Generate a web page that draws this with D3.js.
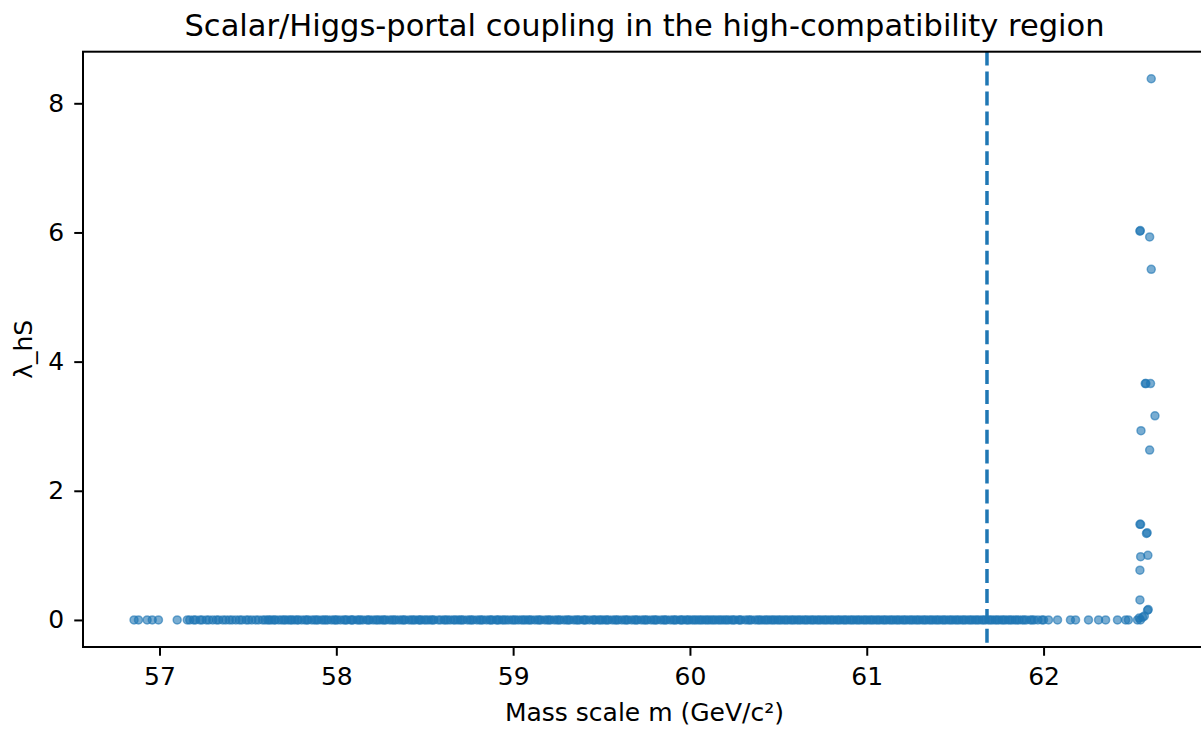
<!DOCTYPE html>
<html>
<head>
<meta charset="utf-8">
<script src="https://cdn.jsdelivr.net/npm/d3@7"></script>
<style>
  body { margin: 0; background: #fff; }
  text { font-family: "DejaVu Sans", sans-serif; fill: #000; }
</style>
</head>
<body>
<script>
// points sitting on the lambda ~ 0 floor (mass in GeV/c^2)
var bandMass = [
    56.856, 56.881, 56.930, 56.959, 56.994, 57.100,
    57.157, 57.171, 57.193, 57.204, 57.229, 57.241, 57.265, 57.279, 57.301, 57.322, 57.334, 57.358,
    57.375, 57.395, 57.411, 57.432, 57.452, 57.466, 57.490, 57.503, 57.522, 57.544, 57.560, 57.583,
    57.597, 57.621, 57.633, 57.655, 57.674, 57.690, 57.712, 57.728, 57.749, 57.764, 57.785, 57.804,
    57.822, 57.840, 57.861, 57.876, 57.897, 57.918, 57.930, 57.952, 57.972, 57.988,
    58.006, 58.024, 58.043, 58.060, 58.081, 58.095, 58.117, 58.136, 58.150, 58.172, 58.189, 58.208,
    58.224, 58.246, 58.262, 58.280, 58.301, 58.315, 58.336, 58.355, 58.371, 58.389, 58.411, 58.425,
    58.446, 58.465, 58.480, 58.497, 58.521, 58.536, 58.553, 58.577, 58.590, 58.609, 58.630, 58.645,
    58.663, 58.687, 58.700, 58.719, 58.741, 58.755, 58.774, 58.795, 58.810, 58.829, 58.849, 58.866,
    58.883, 58.904, 58.920, 58.938, 58.960, 58.975, 58.993,
    59.014, 59.030, 59.047, 59.069, 59.084, 59.103, 59.123, 59.139, 59.157, 59.179, 59.193, 59.212,
    59.233, 59.248, 59.267, 59.288, 59.303, 59.321, 59.343, 59.357, 59.376, 59.397, 59.412, 59.431,
    59.451, 59.467, 59.485, 59.506, 59.522, 59.540, 59.561, 59.576, 59.595, 59.615, 59.631, 59.649,
    59.670, 59.686, 59.704, 59.725, 59.740, 59.759, 59.780, 59.795, 59.813, 59.835, 59.850, 59.868,
    59.889, 59.905, 59.923, 59.944, 59.960, 59.978, 59.996,
    60.012, 60.035, 60.049, 60.071, 60.086, 60.108, 60.122, 60.145, 60.160, 60.183, 60.197, 60.219,
    60.236, 60.254, 60.275, 60.290, 60.313, 60.328, 60.347, 60.369, 60.384, 60.405, 60.421, 60.443,
    60.458, 60.480, 60.495, 60.517, 60.532, 60.554, 60.570, 60.591, 60.606, 60.628, 60.644, 60.665,
    60.681, 60.702, 60.718, 60.740, 60.755, 60.777, 60.792, 60.814, 60.830, 60.851, 60.867, 60.888,
    60.904, 60.926, 60.941, 60.963, 60.979,
    61.001, 61.016, 61.038, 61.053, 61.075, 61.091, 61.112, 61.128, 61.150, 61.165, 61.187, 61.203,
    61.224, 61.240, 61.262, 61.277, 61.299, 61.315, 61.336, 61.352, 61.374, 61.389, 61.411, 61.427,
    61.448, 61.464, 61.486, 61.501, 61.523, 61.539, 61.560, 61.576, 61.598, 61.613, 61.635, 61.651,
    61.672, 61.688, 61.710, 61.725, 61.747, 61.763, 61.784, 61.800, 61.822, 61.838, 61.861, 61.879,
    61.902, 61.925, 61.947, 61.968, 61.991, 62.000, 62.028, 62.079, 62.152, 62.181, 62.254, 62.311,
    62.351, 62.418, 62.464, 62.480, 62.531, 62.548,
    // second layer, where the floor reads darker
    57.612, 57.648, 57.703, 57.741, 57.779, 57.833, 57.887, 57.941, 57.996,
    58.052, 58.088, 58.128, 58.181, 58.233, 58.271, 58.326, 58.381, 58.435, 58.472, 58.508, 58.545,
    58.618, 58.672, 58.709, 58.764, 58.819, 58.874, 58.912, 58.948,
    59.004, 59.058, 59.094, 59.148, 59.203, 59.258, 59.312, 59.366, 59.404, 59.458, 59.494, 59.531,
    59.585, 59.640, 59.695, 59.749, 59.804, 59.859, 59.914, 59.951, 59.987,
    60.024, 60.060, 60.097, 60.133, 60.171, 60.208, 60.245, 60.282, 60.338, 60.393, 60.432, 60.469,
    60.506, 60.543, 60.580, 60.617, 60.655, 60.692, 60.729, 60.766, 60.803, 60.840, 60.877, 60.915,
    60.952, 60.990,
    61.027, 61.064, 61.101, 61.139, 61.176, 61.213, 61.251, 61.288, 61.326, 61.363, 61.400, 61.437,
    61.475, 61.512, 61.549, 61.587, 61.624, 61.661, 61.699, 61.736, 61.773, 61.811, 61.849, 61.890,
    61.935
];

// the points that climb off the floor near the upper mass edge
var tailMass = [
    62.541, 62.560, 62.570, 62.588, 62.592, 62.545, 62.545, 62.549, 62.590, 62.545,
    62.549, 62.582, 62.586, 62.600, 62.551, 62.630, 62.575, 62.579, 62.605, 62.609,
    62.600, 62.545, 62.547, 62.609
];
var tailCoupling = [
    0.03, 0.04, 0.06, 0.15, 0.16, 0.31, 0.77, 0.98, 1.00, 1.48,
    1.48, 1.34, 1.35, 2.63, 2.93, 3.16, 3.66, 3.66, 3.66, 5.43,
    5.93, 6.02, 6.03, 8.38
];

var thresholdMass = 61.68;
var xTicks = [57, 58, 59, 60, 61, 62];
var yTicks = [0, 2, 4, 6, 8];

var points = bandMass.map(function(m) { return {m: m, l: 0}; });
tailMass.forEach(function(m, i) { points.push({m: m, l: tailCoupling[i]}); });

var width = 1201, height = 729;
var padLeft = 83, padTop = 51.7, padRight = 1206, padBottom = 647;

var svg = d3.select("body").append("svg")
    .attr("width", width)
    .attr("height", height);

// matplotlib-like 5% padding around the data
var xExt = d3.extent(points, function(d) { return d.m; });
var yExt = d3.extent(points, function(d) { return d.l; });
var xPad = (xExt[1] - xExt[0]) * 0.05, yPad = (yExt[1] - yExt[0]) * 0.05;

var x = d3.scaleLinear().domain([xExt[0] - xPad, xExt[1] + xPad]).range([padLeft, padRight]);
var y = d3.scaleLinear().domain([yExt[0] - yPad, yExt[1] + yPad]).range([padBottom, padTop]);

var plot = svg.append("g");

plot.selectAll("circle")
    .data(points)
    .enter().append("circle")
    .attr("cx", function(d) { return x(d.m); })
    .attr("cy", function(d) { return y(d.l); })
    .attr("r", 4)
    .attr("fill", "#1f77b4")
    .attr("fill-opacity", 0.6)
    .attr("stroke", "#1f77b4")
    .attr("stroke-opacity", 0.6)
    .attr("stroke-width", 1.5);

// vertical dashed marker
plot.append("line")
    .attr("x1", x(thresholdMass)).attr("x2", x(thresholdMass))
    .attr("y1", padTop).attr("y2", padBottom)
    .attr("stroke", "#1f77b4")
    .attr("stroke-width", 3.5)
    .attr("stroke-dasharray", "13.9,6");

// axes
var xAxis = svg.append("g")
    .attr("transform", "translate(0," + padBottom + ")")
    .call(d3.axisBottom(x).tickValues(xTicks).tickSize(8.75).tickPadding(11).tickFormat(d3.format("d")));
var yAxis = svg.append("g")
    .attr("transform", "translate(" + padLeft + ",0)")
    .call(d3.axisLeft(y).tickValues(yTicks).tickSize(8.75).tickPadding(10).tickFormat(d3.format("d")));

[xAxis, yAxis].forEach(function(a) {
    a.select(".domain").remove();
    a.selectAll(".tick line").attr("stroke", "#000").attr("stroke-width", 2);
    a.selectAll(".tick text").style("font-size", "25px").attr("fill", "#000");
});

svg.append("rect")
    .attr("x", padLeft).attr("y", padTop)
    .attr("width", padRight - padLeft).attr("height", padBottom - padTop)
    .attr("fill", "none")
    .attr("stroke", "#000")
    .attr("stroke-width", 2);

svg.append("text")
    .attr("x", (padLeft + padRight) / 2)
    .attr("y", 36)
    .attr("text-anchor", "middle")
    .style("font-size", "30.5px")
    .text("Scalar/Higgs-portal coupling in the high-compatibility region");

svg.append("text")
    .attr("x", (padLeft + padRight) / 2)
    .attr("y", 721)
    .attr("text-anchor", "middle")
    .style("font-size", "25px")
    .text("Mass scale m (GeV/c²)");

svg.append("text")
    .attr("transform", "translate(32," + ((padTop + padBottom) / 2) + ") rotate(-90)")
    .attr("text-anchor", "middle")
    .style("font-size", "25px")
    .text("λ_hS");
</script>
</body>
</html>
